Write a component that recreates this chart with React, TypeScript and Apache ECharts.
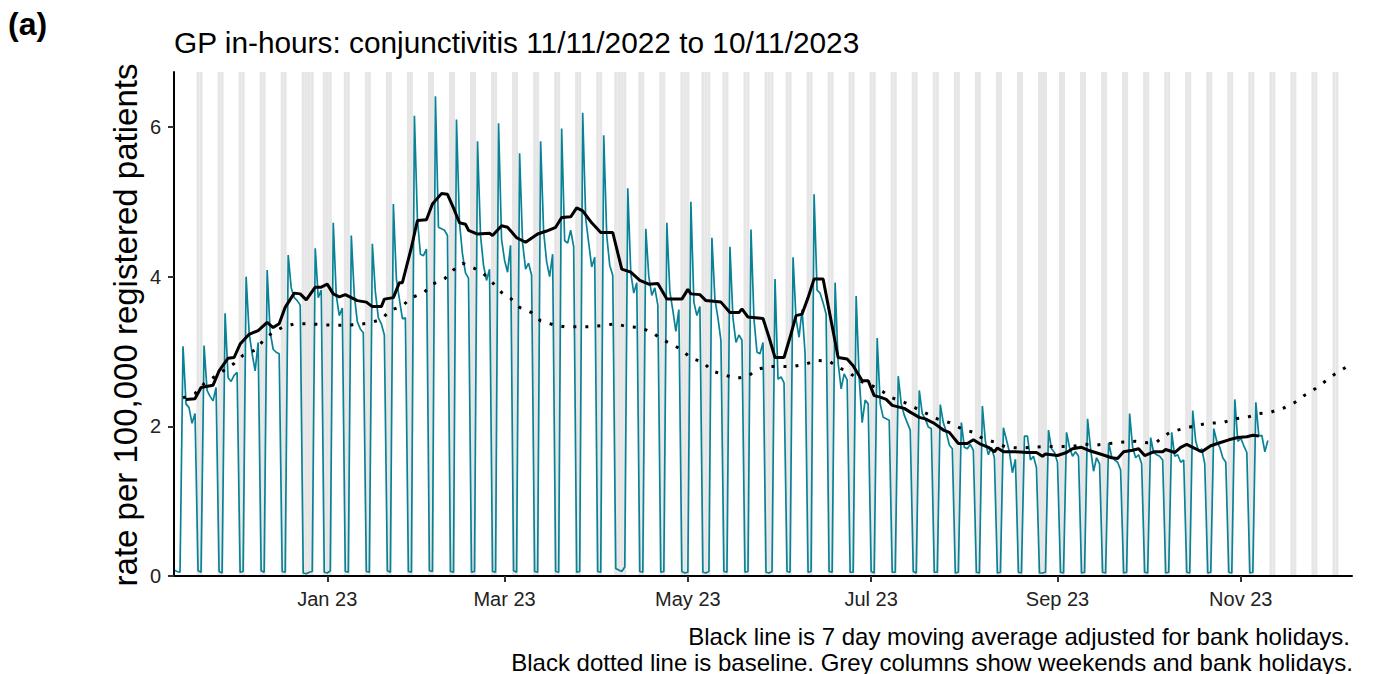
import React, { useEffect, useRef } from 'react';
import * as echarts from 'echarts';

// ---------- data ----------
const startDate = '2022-11-11';
const axisEndDate = '2023-12-08';
const greyStartDate = '2022-11-14';

const monthTicks = ['2023-01-01', '2023-03-01', '2023-05-01', '2023-07-01', '2023-09-01', '2023-11-01'];
const monthTickLabels = ['Jan 23', 'Mar 23', 'May 23', 'Jul 23', 'Sep 23', 'Nov 23'];
const yTicks = [0, 2, 4, 6];

const bankHolidays = [
  '2022-12-26', '2022-12-27', '2023-01-02', '2023-04-07', '2023-04-10',
  '2023-05-01', '2023-05-08', '2023-05-29', '2023-08-28',
];

// Daily rate per 100,000 registered patients, from 11/11/2022 (Fri).
// After the first value, each row is one week: Sat, Sun, Mon, Tue, Wed, Thu, Fri
const dailyRate = [
  0.08,
  0.06, 0.05, 3.07, 2.30, 2.25, 2.04, 2.17,
  0.07, 0.05, 3.08, 2.48, 2.40, 2.34, 2.52,
  0.06, 0.04, 3.51, 2.65, 2.60, 2.68, 2.72,
  0.05, 0.06, 4.00, 3.25, 2.97, 2.74, 3.12,
  0.07, 0.05, 4.09, 3.26, 3.03, 2.99, 2.97,
  0.06, 0.05, 4.29, 3.85, 3.72, 3.68, 3.62,
  0.04, 0.03, 0.05, 0.06, 4.38, 3.72, 3.82,
  0.05, 0.04, 0.07, 4.72, 3.75, 3.48, 3.58,
  0.06, 0.05, 4.55, 3.75, 3.40, 3.30, 3.25,
  0.06, 0.05, 4.44, 3.80, 3.45, 3.37, 3.22,
  0.07, 0.05, 4.97, 3.97, 3.70, 3.44, 3.45,
  0.06, 0.05, 6.15, 4.77, 4.30, 4.28, 4.37,
  0.07, 0.06, 6.41, 4.66, 4.64, 4.62, 4.55,
  0.06, 0.05, 6.10, 4.72, 4.30, 4.05, 3.98,
  0.05, 0.06, 5.81, 4.55, 4.15, 3.95, 4.10,
  0.06, 0.05, 6.05, 4.50, 4.22, 4.06, 4.42,
  0.07, 0.05, 5.65, 4.45, 4.10, 4.18, 4.02,
  0.06, 0.05, 5.81, 4.60, 4.20, 4.00, 4.30,
  0.06, 0.05, 5.98, 4.48, 4.45, 4.62, 4.40,
  0.05, 0.06, 6.19, 4.78, 4.45, 4.13, 4.26,
  0.06, 0.05, 5.89, 4.55, 4.15, 4.02, 0.10,
  0.08, 0.06, 0.12, 5.18, 4.05, 3.78, 3.92,
  0.06, 0.05, 4.64, 4.00, 3.75, 3.85, 3.62,
  0.05, 0.06, 4.72, 3.80, 3.55, 3.27, 3.56,
  0.06, 0.04, 0.05, 5.00, 3.66, 3.48, 3.60,
  0.05, 0.04, 0.06, 4.52, 3.70, 3.45, 3.15,
  0.06, 0.05, 4.40, 3.45, 3.12, 3.22, 3.15,
  0.05, 0.06, 4.63, 3.43, 2.99, 2.97, 3.12,
  0.05, 0.04, 0.06, 3.97, 2.63, 2.66, 2.58,
  0.06, 0.05, 4.26, 3.43, 3.19, 3.56, 2.98,
  0.05, 0.06, 5.10, 3.82, 3.78, 3.65, 3.50,
  0.06, 0.05, 3.92, 2.85, 2.50, 2.70, 2.62,
  0.05, 0.05, 3.74, 2.65, 2.05, 2.35, 2.30,
  0.06, 0.04, 3.18, 2.30, 2.12, 2.10, 2.08,
  0.05, 0.05, 2.67, 2.30, 2.15, 2.05, 1.95,
  0.06, 0.04, 2.48, 2.17, 2.10, 1.99, 1.97,
  0.05, 0.05, 2.29, 2.05, 1.92, 1.75, 1.70,
  0.04, 0.05, 2.05, 1.72, 1.70, 1.76, 1.68,
  0.05, 0.04, 2.27, 1.80, 1.62, 1.72, 1.58,
  0.04, 0.05, 1.98, 1.82, 1.66, 1.38, 1.56,
  0.05, 0.04, 1.87, 1.87, 1.55, 1.60, 1.45,
  0.04, 0.04, 0.05, 1.95, 1.70, 1.65, 1.52,
  0.05, 0.04, 1.92, 1.72, 1.60, 1.66, 1.60,
  0.04, 0.05, 2.10, 1.70, 1.40, 1.58, 1.50,
  0.05, 0.04, 1.78, 1.60, 1.55, 1.52, 1.42,
  0.04, 0.05, 2.17, 1.72, 1.58, 1.62, 1.50,
  0.05, 0.04, 1.85, 1.65, 1.62, 1.60, 1.55,
  0.04, 0.05, 1.92, 1.60, 1.62, 1.52, 1.55,
  0.05, 0.04, 2.21, 1.80, 1.66, 1.70, 1.50,
  0.04, 0.05, 1.97, 1.80, 1.72, 1.58, 1.52,
  0.05, 0.04, 2.36, 1.80, 1.84, 1.74, 1.65,
  0.04, 0.05, 2.32, 1.87, 1.88, 1.66, 1.81,
];

// 7 day moving average adjusted for bank holidays
const movingAverage: [string, number][] = [
  ['2022-11-15', 2.36], ['2022-11-18', 2.37], ['2022-11-20', 2.52], ['2022-11-24', 2.55],
  ['2022-11-26', 2.74], ['2022-11-29', 2.91], ['2022-12-01', 2.92], ['2022-12-03', 3.10],
  ['2022-12-06', 3.23], ['2022-12-09', 3.28], ['2022-12-12', 3.39], ['2022-12-14', 3.32],
  ['2022-12-16', 3.37], ['2022-12-18', 3.59], ['2022-12-21', 3.78], ['2022-12-23', 3.77],
  ['2022-12-25', 3.69], ['2022-12-28', 3.86], ['2022-12-30', 3.86], ['2023-01-01', 3.90],
  ['2023-01-03', 3.77], ['2023-01-05', 3.73], ['2023-01-07', 3.76], ['2023-01-11', 3.68],
  ['2023-01-14', 3.66], ['2023-01-16', 3.60], ['2023-01-19', 3.60], ['2023-01-20', 3.70],
  ['2023-01-23', 3.72], ['2023-01-25', 3.92], ['2023-01-26', 3.92], ['2023-01-29', 4.39],
  ['2023-01-31', 4.75], ['2023-02-03', 4.76], ['2023-02-05', 4.97], ['2023-02-08', 5.11],
  ['2023-02-10', 5.10], ['2023-02-12', 4.92], ['2023-02-14', 4.72], ['2023-02-16', 4.70],
  ['2023-02-17', 4.62], ['2023-02-20', 4.57], ['2023-02-24', 4.58], ['2023-02-25', 4.55],
  ['2023-02-28', 4.68], ['2023-03-02', 4.66], ['2023-03-05', 4.52], ['2023-03-08', 4.46],
  ['2023-03-12', 4.57], ['2023-03-15', 4.61], ['2023-03-18', 4.66], ['2023-03-20', 4.79],
  ['2023-03-23', 4.80], ['2023-03-25', 4.92], ['2023-03-27', 4.88], ['2023-03-30', 4.72],
  ['2023-04-02', 4.59], ['2023-04-06', 4.59], ['2023-04-09', 4.10], ['2023-04-12', 4.06],
  ['2023-04-15', 3.95], ['2023-04-18', 3.90], ['2023-04-21', 3.91], ['2023-04-24', 3.70],
  ['2023-04-29', 3.70], ['2023-05-01', 3.83], ['2023-05-02', 3.77], ['2023-05-05', 3.76],
  ['2023-05-07', 3.68], ['2023-05-12', 3.66], ['2023-05-15', 3.52], ['2023-05-18', 3.52],
  ['2023-05-19', 3.57], ['2023-05-21', 3.46], ['2023-05-26', 3.44], ['2023-05-28', 3.19],
  ['2023-05-30', 2.92], ['2023-06-02', 2.92], ['2023-06-04', 3.19], ['2023-06-06', 3.48],
  ['2023-06-08', 3.50], ['2023-06-10', 3.72], ['2023-06-12', 3.97], ['2023-06-15', 3.97],
  ['2023-06-17', 3.55], ['2023-06-20', 2.92], ['2023-06-23', 2.90], ['2023-06-25', 2.81],
  ['2023-06-28', 2.61], ['2023-06-30', 2.61], ['2023-07-02', 2.41], ['2023-07-04', 2.39],
  ['2023-07-06', 2.36], ['2023-07-08', 2.28], ['2023-07-12', 2.24], ['2023-07-14', 2.19],
  ['2023-07-17', 2.12], ['2023-07-19', 2.10], ['2023-07-22', 2.04], ['2023-07-25', 1.95],
  ['2023-07-27', 1.92], ['2023-07-30', 1.77], ['2023-08-02', 1.77], ['2023-08-04', 1.82],
  ['2023-08-06', 1.77], ['2023-08-09', 1.72], ['2023-08-11', 1.66], ['2023-08-12', 1.71],
  ['2023-08-14', 1.66], ['2023-08-18', 1.66], ['2023-08-22', 1.65], ['2023-08-25', 1.65],
  ['2023-08-27', 1.60], ['2023-08-28', 1.63], ['2023-09-01', 1.61], ['2023-09-04', 1.65],
  ['2023-09-06', 1.70], ['2023-09-09', 1.72], ['2023-09-12', 1.67], ['2023-09-16', 1.62],
  ['2023-09-19', 1.58], ['2023-09-21', 1.57], ['2023-09-23', 1.66], ['2023-09-26', 1.68],
  ['2023-09-28', 1.70], ['2023-09-30', 1.61], ['2023-10-03', 1.66], ['2023-10-06', 1.66],
  ['2023-10-07', 1.69], ['2023-10-10', 1.65], ['2023-10-12', 1.72], ['2023-10-14', 1.76],
  ['2023-10-16', 1.72], ['2023-10-19', 1.66], ['2023-10-22', 1.74], ['2023-10-25', 1.78],
  ['2023-10-28', 1.82], ['2023-10-31', 1.85], ['2023-11-03', 1.86], ['2023-11-05', 1.88],
  ['2023-11-07', 1.87],
];

// Baseline (dotted)
const baseline: [string, number][] = [
  ['2022-11-14', 2.38], ['2022-11-18', 2.44], ['2022-11-21', 2.57], ['2022-12-01', 2.84],
  ['2022-12-04', 2.95], ['2022-12-08', 3.02], ['2022-12-11', 3.16], ['2022-12-14', 3.26],
  ['2022-12-17', 3.32], ['2022-12-21', 3.37], ['2022-12-26', 3.37], ['2022-12-30', 3.36],
  ['2023-01-03', 3.35], ['2023-01-07', 3.35], ['2023-01-11', 3.36], ['2023-01-15', 3.38],
  ['2023-01-19', 3.43], ['2023-01-22', 3.55], ['2023-01-26', 3.61], ['2023-01-29', 3.72],
  ['2023-02-02', 3.78], ['2023-02-05', 3.90], ['2023-02-09', 3.97], ['2023-02-12', 4.09],
  ['2023-02-15', 4.18], ['2023-02-19', 4.11], ['2023-02-22', 4.04], ['2023-02-25', 3.92],
  ['2023-02-28', 3.79], ['2023-03-03', 3.71], ['2023-03-06', 3.59], ['2023-03-10', 3.52],
  ['2023-03-13', 3.41], ['2023-03-17', 3.36], ['2023-03-21', 3.33], ['2023-03-25', 3.33],
  ['2023-03-29', 3.33], ['2023-04-03', 3.35], ['2023-04-07', 3.37], ['2023-04-11', 3.33],
  ['2023-04-15', 3.32], ['2023-04-19', 3.26], ['2023-04-22', 3.17], ['2023-04-26', 3.09],
  ['2023-04-29', 3.02], ['2023-05-02', 2.91], ['2023-05-06', 2.86], ['2023-05-09', 2.74],
  ['2023-05-13', 2.69], ['2023-05-17', 2.64], ['2023-05-21', 2.67], ['2023-05-24', 2.76],
  ['2023-05-28', 2.80], ['2023-06-05', 2.80], ['2023-06-09', 2.83], ['2023-06-13', 2.88],
  ['2023-06-17', 2.87], ['2023-06-20', 2.79], ['2023-06-24', 2.71], ['2023-06-27', 2.61],
  ['2023-07-01', 2.55], ['2023-07-05', 2.46], ['2023-07-08', 2.38], ['2023-07-12', 2.32],
  ['2023-07-16', 2.24], ['2023-07-19', 2.18], ['2023-07-23', 2.10], ['2023-07-27', 2.05],
  ['2023-07-31', 1.97], ['2023-08-04', 1.92], ['2023-08-07', 1.84], ['2023-08-11', 1.79],
  ['2023-08-15', 1.72], ['2023-08-20', 1.71], ['2023-08-24', 1.72], ['2023-08-28', 1.73],
  ['2023-09-02', 1.73], ['2023-09-06', 1.73], ['2023-09-10', 1.76], ['2023-09-14', 1.75],
  ['2023-09-18', 1.77], ['2023-09-23', 1.79], ['2023-09-27', 1.80], ['2023-10-01', 1.78],
  ['2023-10-04', 1.79], ['2023-10-06', 1.86], ['2023-10-09', 1.93], ['2023-10-13', 1.97],
  ['2023-10-17', 2.01], ['2023-10-21', 2.04], ['2023-10-26', 2.05], ['2023-10-30', 2.10],
  ['2023-11-03', 2.12], ['2023-11-07', 2.17], ['2023-11-11', 2.19], ['2023-11-15', 2.24],
  ['2023-11-19', 2.32], ['2023-11-22', 2.41], ['2023-11-26', 2.51], ['2023-11-29', 2.60],
  ['2023-12-02', 2.69], ['2023-12-06', 2.79], ['2023-12-07', 2.82],
];

const titleText = 'GP in-hours: conjunctivitis 11/11/2022 to 10/11/2023';
const yAxisTitle = 'rate per 100,000 registered patients';
const panelLabel = '(a)';
const footnote1 = 'Black line is 7 day moving average adjusted for bank holidays.';
const footnote2 = 'Black dotted line is baseline. Grey columns show weekends and bank holidays.';

// ---------- helpers ----------
const DAY = 86400000;
const FONT = "'Liberation Sans', Arial, Helvetica, sans-serif";

function parts(s: string) {
  const [y, m, d] = s.split('-').map(Number);
  return [y, m, d];
}
function toTs(s: string) {
  const [y, m, d] = parts(s);
  return Date.UTC(y, m - 1, d);
}
// day number counted from the start date (x axis unit = 1 day)
function dayNum(s: string) {
  return Math.round((toTs(s) - toTs(startDate)) / DAY);
}
function keyOf(t: number) {
  const dt = new Date(t);
  const mm = String(dt.getUTCMonth() + 1).padStart(2, '0');
  const dd = String(dt.getUTCDate()).padStart(2, '0');
  return `${dt.getUTCFullYear()}-${mm}-${dd}`;
}

export default function App() {
  const ref = useRef<HTMLDivElement>(null);

  useEffect(() => {
    if (!ref.current) return;
    const chart = echarts.init(ref.current, null, { renderer: 'svg' });

    const xMax = dayNum(axisEndDate);
    const yMax = 6.735;

    const tealData = dailyRate.map((v, i) => [i, v]);
    const maData = movingAverage.map(([d, v]) => [dayNum(d), v]);
    const baseData = baseline.map(([d, v]) => [dayNum(d), v]);

    const startTs = toTs(startDate);
    const greyDays: number[][] = [];
    for (let i = dayNum(greyStartDate); i <= xMax; i++) {
      const t = startTs + i * DAY;
      const dow = new Date(t).getUTCDay();
      if (dow === 0 || dow === 6 || bankHolidays.includes(keyOf(t))) greyDays.push([i, 0]);
    }

    const tickDays = monthTicks.map(dayNum);

    chart.setOption({
      animation: false,
      textStyle: { fontFamily: FONT },
      grid: { left: 174, right: 22, top: 72, bottom: 98, containLabel: false },
      xAxis: {
        type: 'value',
        min: 0,
        max: xMax,
        z: 10,
        axisLine: { show: true, onZero: false, lineStyle: { color: '#000', width: 2 } },
        axisTick: { show: true, length: 6, lineStyle: { color: '#333', width: 2 }, customValues: tickDays },
        axisLabel: {
          customValues: tickDays,
          margin: 13,
          fontSize: 20,
          color: '#222',
          fontFamily: FONT,
          formatter: (val: number) => {
            const idx = tickDays.indexOf(Math.round(val));
            return idx >= 0 ? monthTickLabels[idx] : '';
          },
        },
        splitLine: { show: false },
      },
      yAxis: {
        type: 'value',
        min: 0,
        max: yMax,
        interval: 2,
        z: 10,
        axisLine: { show: true, onZero: false, lineStyle: { color: '#000', width: 2 } },
        axisTick: { show: true, length: 6, lineStyle: { color: '#333', width: 2 }, customValues: yTicks },
        axisLabel: { customValues: yTicks, margin: 13, fontSize: 20, color: '#222', fontFamily: FONT },
        splitLine: { show: false },
      },
      graphic: [
        {
          type: 'text', x: 8, y: 24,
          style: { text: panelLabel, font: `bold 32px ${FONT}`, fill: '#000', verticalAlign: 'middle', align: 'left' },
        },
        {
          type: 'text', x: 174, y: 42,
          style: { text: titleText, font: `29.8px ${FONT}`, fill: '#000', verticalAlign: 'middle', align: 'left' },
        },
        {
          type: 'text', x: 125, y: 325, rotation: Math.PI / 2,
          style: { text: yAxisTitle, font: `33px ${FONT}`, fill: '#000', verticalAlign: 'middle', align: 'center' },
        },
        {
          type: 'text', x: 1350, y: 636,
          style: { text: footnote1, font: `24px ${FONT}`, fill: '#000', verticalAlign: 'middle', align: 'right' },
        },
        {
          type: 'text', x: 1353, y: 662,
          style: { text: footnote2, font: `24px ${FONT}`, fill: '#000', verticalAlign: 'middle', align: 'right' },
        },
      ],
      series: [
        {
          type: 'custom',
          name: 'weekends',
          silent: true,
          z: 1,
          data: greyDays,
          encode: { x: 0, y: 1 },
          renderItem: (params: any, api: any) => {
            const d = api.value(0);
            const p0 = api.coord([d - 0.5, 0]);
            const p1 = api.coord([d + 0.5, 0]);
            const cs = params.coordSys;
            return {
              type: 'rect',
              shape: { x: p0[0], y: cs.y, width: p1[0] - p0[0], height: cs.height },
              style: { fill: '#E6E6E6' },
            };
          },
        },
        {
          type: 'line',
          name: 'daily',
          z: 3,
          data: tealData,
          symbol: 'none',
          lineStyle: { color: '#0A8296', width: 1.7 },
        },
        {
          type: 'line',
          name: 'baseline',
          z: 4,
          data: baseData,
          symbol: 'none',
          lineStyle: { color: '#000', width: 3, type: [3, 9], cap: 'butt' },
        },
        {
          type: 'line',
          name: 'moving average',
          z: 5,
          data: maData,
          symbol: 'none',
          lineStyle: { color: '#000', width: 3 },
        },
      ],
    });

    return () => chart.dispose();
  }, []);

  return (
    <div
      ref={ref}
      style={{ position: 'fixed', left: 0, top: 0, width: 1374, height: 674, background: '#fff' }}
    />
  );
}
